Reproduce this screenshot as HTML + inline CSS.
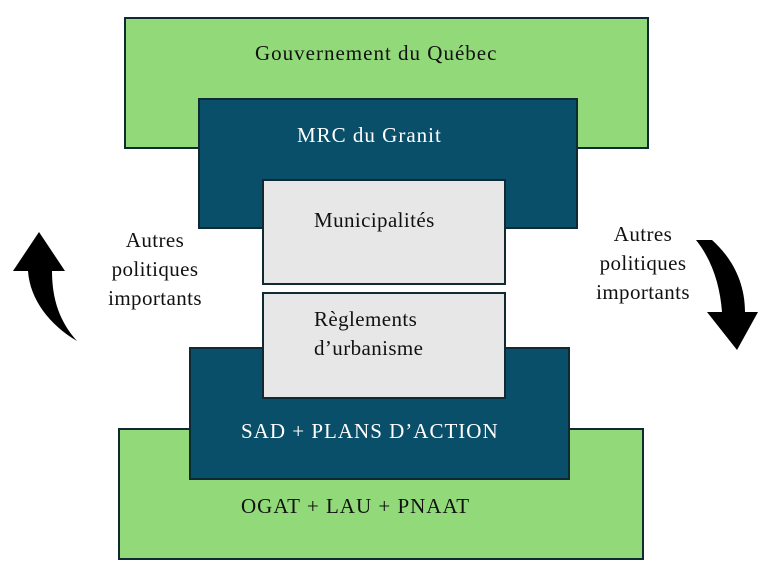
<!DOCTYPE html>
<html><head><style>
body{margin:0;width:758px;height:571px;background:#fff;position:relative;overflow:hidden;font-family:"Liberation Serif",serif;}
.b{position:absolute;box-sizing:border-box;border:2px solid #0f2a33;}
.g{background:#92d979;}
.d{background:#0a4f6a;color:#fff;}
.l{background:#e7e7e7;}
.t{position:absolute;font-size:21px;letter-spacing:1px;white-space:nowrap;}
.c{position:absolute;font-size:21px;letter-spacing:0.4px;text-align:center;line-height:29px;color:#111;}
</style></head><body>
<div class="b g" style="left:124px;top:17px;width:525px;height:132px"></div>
<div class="t" style="left:255px;top:41px;color:#111">Gouvernement du Québec</div>
<div class="b d" style="left:198px;top:98px;width:380px;height:131px"></div>
<div class="t" style="left:297px;top:123px;color:#fff">MRC du Granit</div>
<div class="b l" style="left:262px;top:179px;width:244px;height:106px"></div>
<div class="t" style="left:314px;top:208px;color:#111;letter-spacing:0.4px">Municipalités</div>
<div class="b g" style="left:118px;top:428px;width:526px;height:132px"></div>
<div class="b d" style="left:189px;top:347px;width:381px;height:133px"></div>
<div class="b l" style="left:262px;top:292px;width:244px;height:107px"></div>
<div class="c" style="left:314px;top:305px;text-align:left">Règlements<br>d’urbanisme</div>
<div class="t" style="left:241px;top:419px;color:#fff">SAD + PLANS D’ACTION</div>
<div class="t" style="left:241px;top:494px;color:#111">OGAT + LAU + PNAAT</div>
<div class="c" style="left:90px;top:226px;width:130px">Autres<br>politiques<br>importants</div>
<div class="c" style="left:578px;top:220px;width:130px">Autres<br>politiques<br>importants</div>
<svg width="758" height="571" style="position:absolute;left:0;top:0">
<path d="M39,232 L65,271 L52,271 C52,300 60,322 77,341 C50,325 30,300 28,271 L13,271 Z" fill="#000"/>
<path d="M696,240 L712,240 C732,258 745,282 745,312 L758,312 L737,350 L707,312 L722,312 C720,285 712,260 696,240 Z" fill="#000"/>
</svg>
</body></html>
